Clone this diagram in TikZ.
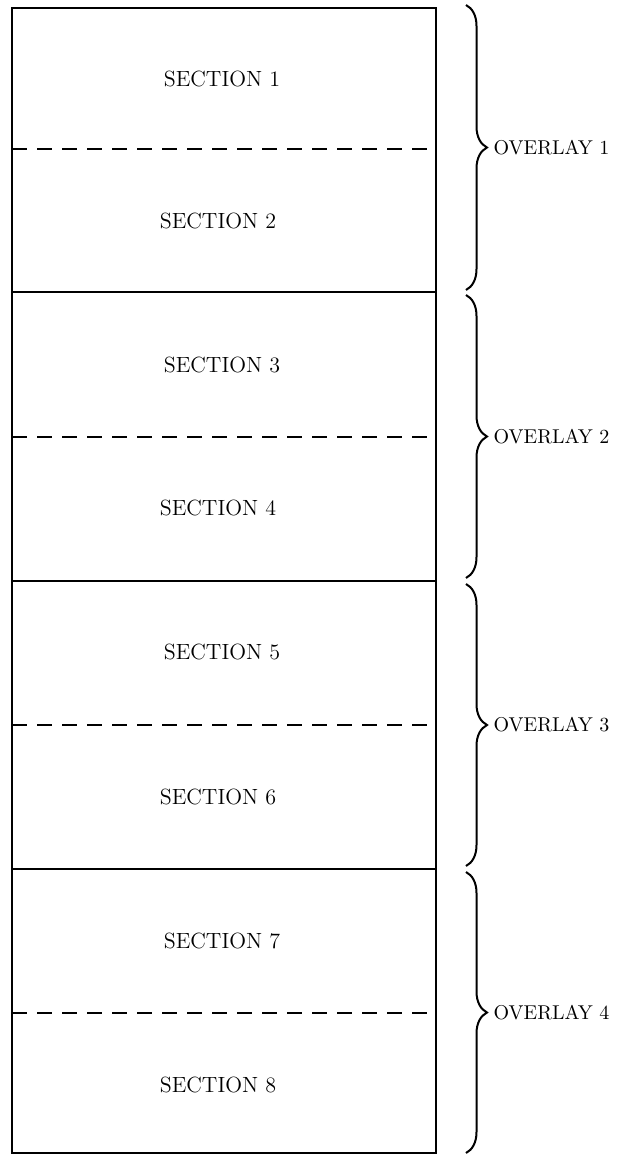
\documentclass[tikz,border=0pt]{standalone}
\usetikzlibrary{positioning,decorations.pathreplacing}

\begin{document}
\begin{tikzpicture}[x=0.5pt,y=-0.5pt,font=\fontsize{11}{13}\selectfont,
  secline/.style={line width=0.8pt},
  cutline/.style={line width=0.7pt,dash pattern=on 7.5pt off 5pt},
  ovbrace/.style={line width=1pt,decorate,decoration={brace,amplitude=10.5pt}},
  ovlabel/.style={font=\fontsize{10}{12}\selectfont}]
  \useasboundingbox (0,0) rectangle (627,1156);
  % store
  \draw[line width=1pt] (12,8) rectangle (436,1153);
  \foreach \y in {292,581,869}{\draw[secline] (12,\y) -- (436,\y);}
  \foreach \y in {149,437,725,1013}{\draw[cutline] (12,\y) -- (436,\y);}
  % sections
  \foreach \n/\x/\y in {1/222/79, 2/218/221, 3/222/365, 4/218/508,
                        5/222/652, 6/218/797, 7/222/941, 8/218/1085}{
    \node (sec\n) at (\x,\y) {SECTION \n};}
  % overlays
  \foreach \n/\a/\b in {1/5/290, 2/295/578, 3/584/866, 4/872/1153}{
    \coordinate (ov\n top) at (466,\a);
    \coordinate (ov\n bot) at (466,\b);
    \draw[ovbrace] (ov\n top) -- (ov\n bot)
      node[midway,right=10pt,ovlabel] (ov\n) {OVERLAY \n};}
\end{tikzpicture}
\end{document}
